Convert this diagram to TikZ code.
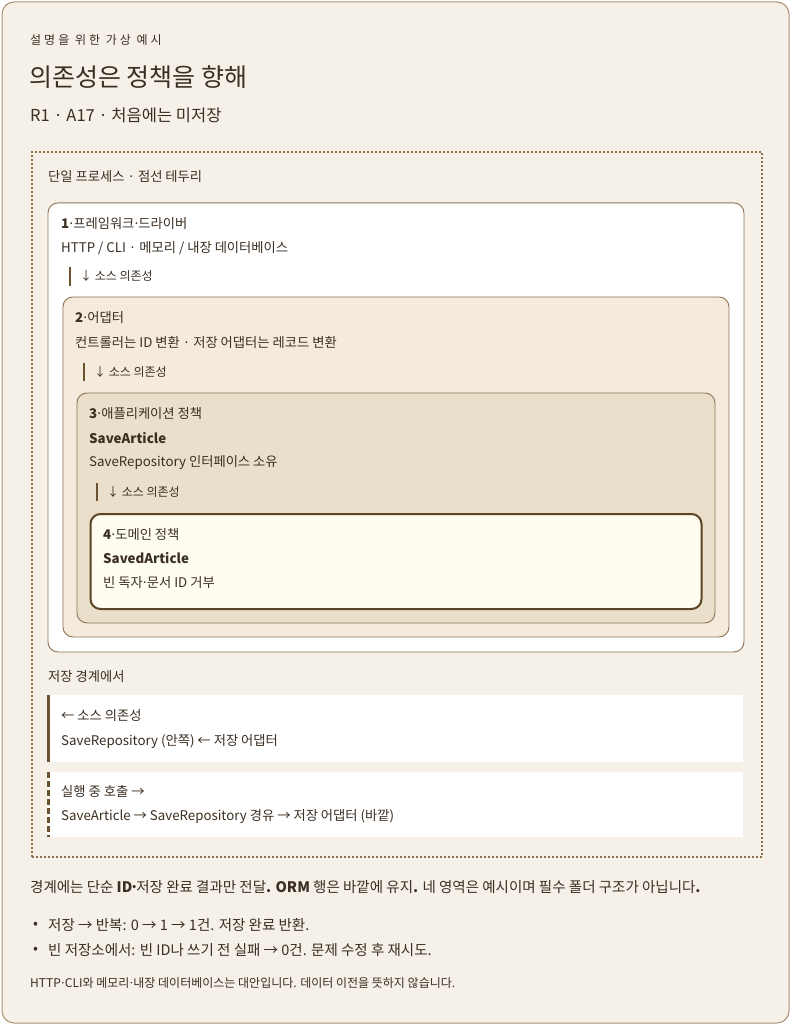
\documentclass[tikz,border=0pt]{standalone}
\usepackage{fontspec}
\setmainfont{Noto Sans CJK KR}
\newfontfamily\krls[LetterSpace=25]{Noto Sans CJK KR}
\newcommand\md{\makebox[4pt]{·}}
\definecolor{cardbg}{HTML}{F5F0E8}
\definecolor{cardline}{HTML}{A89274}
\definecolor{ink}{HTML}{3B2E22}
\definecolor{boxline}{HTML}{8C7355}
\definecolor{dotline}{HTML}{8B6F47}
\definecolor{bartone}{HTML}{6B5330}
\definecolor{fillb}{HTML}{F5EBDC}
\definecolor{fillc}{HTML}{E9DFCA}
\definecolor{filld}{HTML}{FFFCF2}
\definecolor{dline}{HTML}{5C4427}
\tikzset{
  txt/.style={anchor=west,inner sep=0pt,text=ink,font=\fontsize{13.3}{15}\selectfont},
  small/.style={txt,font=\fontsize{12}{14}\selectfont},
  note/.style={txt,font=\fontsize{14.5}{17}\selectfont},
  layer/.style={draw=boxline,line width=0.9pt,rounded corners=10pt,anchor=north west,inner sep=0pt},
  depbar/.style={draw=bartone,line width=2pt},
  panel/.style={fill=white,draw=none,anchor=north west,inner sep=0pt}
}
\begin{document}
\begin{tikzpicture}[x=1pt,y=-1pt]
\useasboundingbox (0,0) rectangle (790,1024);
\node[draw=cardline,fill=cardbg,line width=1pt,rounded corners=12pt,minimum width=787pt,minimum height=1021pt,anchor=north west,inner sep=0pt] (card) at (1.5,1.5) {};
\node[txt,font=\krls\fontsize{12}{14}\selectfont] (kicker) at (30,40) {설명을 위한 가상 예시};
\node[txt,font=\fontsize{25}{28}\selectfont] (title) at (29,77) {의존성은 정책을 향해};
\node[txt,font=\fontsize{16.5}{19}\selectfont] (sub) at (30,115) {R1 · A17 · 처음에는 미저장};
% dotted frame
\node[draw=dotline,line width=2pt,dash pattern=on 2pt off 2pt,minimum width=730pt,minimum height=705pt,anchor=north west,inner sep=0pt] (frame) at (31,151) {};
\node[txt] (framelbl) at (48,177) {단일 프로세스 · 점선 테두리};
% layer 1
\node[layer,fill=white,minimum width=696pt,minimum height=449pt] (l1) at (47.5,202.5) {};
\node[txt] (l1t) at (61,224) {\textbf{1}\md 프레임워크\md 드라이버};
\node[txt] (l1b) at (61,248) {HTTP / CLI · 메모리 / 내장 데이터베이스};
\coordinate (d1a) at (70,267); \coordinate (d1b) at (70,286);
\draw[depbar] (d1a) -- (d1b);
\node[small] (d1) at (80,276) {↓ 소스 의존성};
% layer 2
\node[layer,fill=fillb,minimum width=666pt,minimum height=340pt] (l2) at (62.5,296.5) {};
\node[txt] (l2t) at (75,318) {\textbf{2}\md 어댑터};
\node[txt] (l2b) at (75,343) {컨트롤러는 ID 변환 · 저장 어댑터는 레코드 변환};
\coordinate (d2a) at (84,363); \coordinate (d2b) at (84,381);
\draw[depbar] (d2a) -- (d2b);
\node[small] (d2) at (94,372) {↓ 소스 의존성};
% layer 3
\node[layer,fill=fillc,minimum width=638pt,minimum height=230pt] (l3) at (76.5,392.5) {};
\node[txt] (l3t) at (89,414) {\textbf{3}\md 애플리케이션 정책};
\node[txt] (l3s) at (89,438) {\textbf{SaveArticle}};
\node[txt] (l3b) at (89,463) {SaveRepository 인터페이스 소유};
\coordinate (d3a) at (97,483); \coordinate (d3b) at (97,501);
\draw[depbar] (d3a) -- (d3b);
\node[small] (d3) at (107,492) {↓ 소스 의존성};
% layer 4
\node[layer,draw=dline,line width=2pt,fill=filld,minimum width=611pt,minimum height=95pt] (l4) at (89.5,513) {};
\node[txt] (l4t) at (103,535) {\textbf{4}\md 도메인 정책};
\node[txt] (l4s) at (103,558) {\textbf{SavedArticle}};
\node[txt] (l4b) at (103,583) {빈 독자\md 문서 ID 거부};
% boundary
\node[txt] (bnd) at (48,677) {저장 경계에서};
\node[panel,minimum width=696pt,minimum height=67pt] (pa) at (47,695) {};
\draw[draw=bartone,line width=3pt] (pa.north west) ++(1.5,0) coordinate (pa1) -- (pa.south west -| pa1);
\node[txt] (pat) at (61,716) {← 소스 의존성};
\node[txt] (pab) at (61,742) {SaveRepository (안쪽) ← 저장 어댑터};
\node[panel,minimum width=696pt,minimum height=65pt] (pb) at (47,772) {};
\draw[draw=bartone,line width=3pt,dash pattern=on 6pt off 3pt] (pb.north west) ++(1.5,0) coordinate (pb1) -- (pb.south west -| pb1);
\node[txt] (pbt) at (61,791) {실행 중 호출 →};
\node[txt] (pbb) at (61,817) {SaveArticle → SaveRepository 경유 → 저장 어댑터 (바깥)};
% notes
\node[note] (para) at (30,887) {경계에는 단순 \textbf{ID\md}저장 완료 결과만 전달\textbf{.} \textbf{ORM} 행은 바깥에 유지\textbf{.} 네 영역은 예시이며 필수 폴더 구조가 아닙니다\textbf{.}};
\node[note] (bu1d) at (33,925) {•};
\node[note] (bu1) at (48,925) {저장 → 반복: 0 → 1 → 1건. 저장 완료 반환.};
\node[note] (bu2d) at (33,950) {•};
\node[note] (bu2) at (48,950) {빈 저장소에서: 빈 ID나 쓰기 전 실패 → 0건. 문제 수정 후 재시도.};
\node[txt,font=\fontsize{12}{14}\selectfont] (foot) at (30,983) {HTTP\md CLI와 메모리\md 내장 데이터베이스는 대안입니다. 데이터 이전을 뜻하지 않습니다.};
\end{tikzpicture}
\end{document}
